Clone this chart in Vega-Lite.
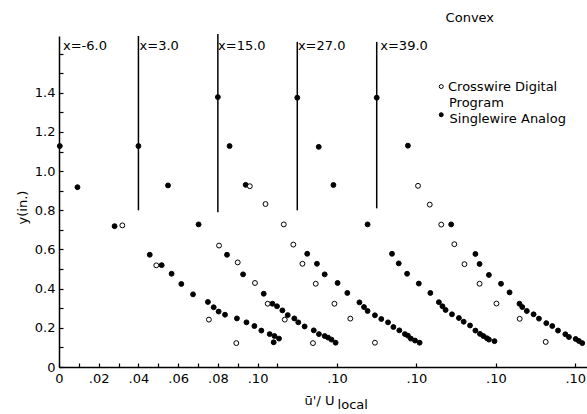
{
  "$schema": "https://vega.github.io/schema/vega-lite/v6.json",
  "width": 528,
  "height": 331,
  "autosize": "none",
  "padding": {"left": 59, "top": 36, "right": 0, "bottom": 47},
  "background": "white",
  "config": {
    "view": {"stroke": null},
    "font": "DejaVu Sans",
    "axis": {
      "grid": false,
      "domainColor": "black",
      "tickColor": "black",
      "labelColor": "black",
      "titleColor": "black",
      "labelFontSize": 13,
      "titleFontSize": 13,
      "labelFont": "DejaVu Sans",
      "titleFont": "DejaVu Sans",
      "titleFontWeight": "normal",
      "domainWidth": 1.5,
      "tickWidth": 1.2
    }
  },
  "datasets": {
    "points": [
      {"series": "Singlewire", "station": "-6.0", "u": 0.0004, "y": 1.128},
      {"series": "Singlewire", "station": "-6.0", "u": 0.0093, "y": 0.918},
      {"series": "Singlewire", "station": "-6.0", "u": 0.028, "y": 0.719},
      {"series": "Singlewire", "station": "-6.0", "u": 0.0457, "y": 0.573},
      {"series": "Singlewire", "station": "-6.0", "u": 0.0517, "y": 0.52},
      {"series": "Singlewire", "station": "-6.0", "u": 0.0567, "y": 0.476},
      {"series": "Singlewire", "station": "-6.0", "u": 0.0616, "y": 0.424},
      {"series": "Singlewire", "station": "-6.0", "u": 0.0675, "y": 0.371},
      {"series": "Singlewire", "station": "-6.0", "u": 0.075, "y": 0.332},
      {"series": "Singlewire", "station": "-6.0", "u": 0.0779, "y": 0.305},
      {"series": "Singlewire", "station": "-6.0", "u": 0.0804, "y": 0.283},
      {"series": "Singlewire", "station": "-6.0", "u": 0.0836, "y": 0.267},
      {"series": "Singlewire", "station": "-6.0", "u": 0.0896, "y": 0.248},
      {"series": "Singlewire", "station": "-6.0", "u": 0.0944, "y": 0.228},
      {"series": "Singlewire", "station": "-6.0", "u": 0.0984, "y": 0.209},
      {"series": "Singlewire", "station": "-6.0", "u": 0.1019, "y": 0.186},
      {"series": "Singlewire", "station": "-6.0", "u": 0.1061, "y": 0.168},
      {"series": "Singlewire", "station": "-6.0", "u": 0.1085, "y": 0.158},
      {"series": "Singlewire", "station": "-6.0", "u": 0.1108, "y": 0.145},
      {"series": "Singlewire", "station": "-6.0", "u": 0.1081, "y": 0.126},
      {"series": "Singlewire", "station": "3.0", "u": 0.04, "y": 1.128},
      {"series": "Singlewire", "station": "3.0", "u": 0.0549, "y": 0.927},
      {"series": "Singlewire", "station": "3.0", "u": 0.0703, "y": 0.728},
      {"series": "Singlewire", "station": "3.0", "u": 0.0846, "y": 0.573},
      {"series": "Singlewire", "station": "3.0", "u": 0.0927, "y": 0.473},
      {"series": "Singlewire", "station": "3.0", "u": 0.1031, "y": 0.374},
      {"series": "Singlewire", "station": "3.0", "u": 0.1075, "y": 0.323},
      {"series": "Singlewire", "station": "3.0", "u": 0.1098, "y": 0.31},
      {"series": "Singlewire", "station": "3.0", "u": 0.1125, "y": 0.289},
      {"series": "Singlewire", "station": "3.0", "u": 0.1152, "y": 0.265},
      {"series": "Singlewire", "station": "3.0", "u": 0.1185, "y": 0.248},
      {"series": "Singlewire", "station": "3.0", "u": 0.1205, "y": 0.228},
      {"series": "Singlewire", "station": "3.0", "u": 0.1237, "y": 0.207},
      {"series": "Singlewire", "station": "3.0", "u": 0.1283, "y": 0.187},
      {"series": "Singlewire", "station": "3.0", "u": 0.1309, "y": 0.168},
      {"series": "Singlewire", "station": "3.0", "u": 0.1338, "y": 0.158},
      {"series": "Singlewire", "station": "3.0", "u": 0.1355, "y": 0.15},
      {"series": "Singlewire", "station": "3.0", "u": 0.1372, "y": 0.14},
      {"series": "Singlewire", "station": "3.0", "u": 0.1393, "y": 0.124},
      {"series": "Singlewire", "station": "15.0", "u": 0.08, "y": 1.378},
      {"series": "Singlewire", "station": "15.0", "u": 0.0859, "y": 1.128},
      {"series": "Singlewire", "station": "15.0", "u": 0.094, "y": 0.93},
      {"series": "Singlewire", "station": "15.0", "u": 0.125, "y": 0.578},
      {"series": "Singlewire", "station": "15.0", "u": 0.1299, "y": 0.527},
      {"series": "Singlewire", "station": "15.0", "u": 0.1338, "y": 0.473},
      {"series": "Singlewire", "station": "15.0", "u": 0.1403, "y": 0.429},
      {"series": "Singlewire", "station": "15.0", "u": 0.1452, "y": 0.378},
      {"series": "Singlewire", "station": "15.0", "u": 0.1513, "y": 0.33},
      {"series": "Singlewire", "station": "15.0", "u": 0.1536, "y": 0.306},
      {"series": "Singlewire", "station": "15.0", "u": 0.1554, "y": 0.286},
      {"series": "Singlewire", "station": "15.0", "u": 0.1591, "y": 0.264},
      {"series": "Singlewire", "station": "15.0", "u": 0.1623, "y": 0.245},
      {"series": "Singlewire", "station": "15.0", "u": 0.1657, "y": 0.228},
      {"series": "Singlewire", "station": "15.0", "u": 0.1684, "y": 0.204},
      {"series": "Singlewire", "station": "15.0", "u": 0.1714, "y": 0.187},
      {"series": "Singlewire", "station": "15.0", "u": 0.1742, "y": 0.168},
      {"series": "Singlewire", "station": "15.0", "u": 0.1757, "y": 0.16},
      {"series": "Singlewire", "station": "15.0", "u": 0.1772, "y": 0.145},
      {"series": "Singlewire", "station": "15.0", "u": 0.1793, "y": 0.135},
      {"series": "Singlewire", "station": "15.0", "u": 0.1816, "y": 0.124},
      {"series": "Singlewire", "station": "27.0", "u": 0.12, "y": 1.375},
      {"series": "Singlewire", "station": "27.0", "u": 0.1308, "y": 1.124},
      {"series": "Singlewire", "station": "27.0", "u": 0.1382, "y": 0.929},
      {"series": "Singlewire", "station": "27.0", "u": 0.1554, "y": 0.728},
      {"series": "Singlewire", "station": "27.0", "u": 0.1677, "y": 0.578},
      {"series": "Singlewire", "station": "27.0", "u": 0.1711, "y": 0.529},
      {"series": "Singlewire", "station": "27.0", "u": 0.1753, "y": 0.476},
      {"series": "Singlewire", "station": "27.0", "u": 0.1812, "y": 0.426},
      {"series": "Singlewire", "station": "27.0", "u": 0.187, "y": 0.378},
      {"series": "Singlewire", "station": "27.0", "u": 0.1913, "y": 0.331},
      {"series": "Singlewire", "station": "27.0", "u": 0.1931, "y": 0.31},
      {"series": "Singlewire", "station": "27.0", "u": 0.1947, "y": 0.291},
      {"series": "Singlewire", "station": "27.0", "u": 0.1979, "y": 0.269},
      {"series": "Singlewire", "station": "27.0", "u": 0.2014, "y": 0.25},
      {"series": "Singlewire", "station": "27.0", "u": 0.2038, "y": 0.231},
      {"series": "Singlewire", "station": "27.0", "u": 0.207, "y": 0.212},
      {"series": "Singlewire", "station": "27.0", "u": 0.2097, "y": 0.186},
      {"series": "Singlewire", "station": "27.0", "u": 0.212, "y": 0.169},
      {"series": "Singlewire", "station": "27.0", "u": 0.2137, "y": 0.158},
      {"series": "Singlewire", "station": "27.0", "u": 0.2155, "y": 0.147},
      {"series": "Singlewire", "station": "27.0", "u": 0.2165, "y": 0.14},
      {"series": "Singlewire", "station": "27.0", "u": 0.2193, "y": 0.132},
      {"series": "Singlewire", "station": "39.0", "u": 0.16, "y": 1.375},
      {"series": "Singlewire", "station": "39.0", "u": 0.1757, "y": 1.13},
      {"series": "Singlewire", "station": "39.0", "u": 0.1975, "y": 0.728},
      {"series": "Singlewire", "station": "39.0", "u": 0.2097, "y": 0.577},
      {"series": "Singlewire", "station": "39.0", "u": 0.2118, "y": 0.526},
      {"series": "Singlewire", "station": "39.0", "u": 0.2165, "y": 0.47},
      {"series": "Singlewire", "station": "39.0", "u": 0.2226, "y": 0.425},
      {"series": "Singlewire", "station": "39.0", "u": 0.2269, "y": 0.381},
      {"series": "Singlewire", "station": "39.0", "u": 0.2319, "y": 0.323},
      {"series": "Singlewire", "station": "39.0", "u": 0.2333, "y": 0.306},
      {"series": "Singlewire", "station": "39.0", "u": 0.2356, "y": 0.286},
      {"series": "Singlewire", "station": "39.0", "u": 0.239, "y": 0.269},
      {"series": "Singlewire", "station": "39.0", "u": 0.2417, "y": 0.247},
      {"series": "Singlewire", "station": "39.0", "u": 0.2454, "y": 0.224},
      {"series": "Singlewire", "station": "39.0", "u": 0.2484, "y": 0.209},
      {"series": "Singlewire", "station": "39.0", "u": 0.2513, "y": 0.186},
      {"series": "Singlewire", "station": "39.0", "u": 0.255, "y": 0.167},
      {"series": "Singlewire", "station": "39.0", "u": 0.2568, "y": 0.153},
      {"series": "Singlewire", "station": "39.0", "u": 0.2602, "y": 0.143},
      {"series": "Singlewire", "station": "39.0", "u": 0.2618, "y": 0.133},
      {"series": "Singlewire", "station": "39.0", "u": 0.2635, "y": 0.122},
      {"series": "Crosswire", "station": "-6.0", "u": 0.0319, "y": 0.723},
      {"series": "Crosswire", "station": "-6.0", "u": 0.049, "y": 0.519},
      {"series": "Crosswire", "station": "-6.0", "u": 0.0755, "y": 0.242},
      {"series": "Crosswire", "station": "-6.0", "u": 0.0893, "y": 0.122},
      {"series": "Crosswire", "station": "3.0", "u": 0.0806, "y": 0.62},
      {"series": "Crosswire", "station": "3.0", "u": 0.09, "y": 0.534},
      {"series": "Crosswire", "station": "3.0", "u": 0.0987, "y": 0.429},
      {"series": "Crosswire", "station": "3.0", "u": 0.1051, "y": 0.323},
      {"series": "Crosswire", "station": "3.0", "u": 0.1137, "y": 0.242},
      {"series": "Crosswire", "station": "3.0", "u": 0.1279, "y": 0.122},
      {"series": "Crosswire", "station": "15.0", "u": 0.0961, "y": 0.923},
      {"series": "Crosswire", "station": "15.0", "u": 0.104, "y": 0.832},
      {"series": "Crosswire", "station": "15.0", "u": 0.1132, "y": 0.728},
      {"series": "Crosswire", "station": "15.0", "u": 0.118, "y": 0.625},
      {"series": "Crosswire", "station": "15.0", "u": 0.1226, "y": 0.527},
      {"series": "Crosswire", "station": "15.0", "u": 0.1293, "y": 0.425},
      {"series": "Crosswire", "station": "15.0", "u": 0.1387, "y": 0.323},
      {"series": "Crosswire", "station": "15.0", "u": 0.1467, "y": 0.247},
      {"series": "Crosswire", "station": "15.0", "u": 0.1591, "y": 0.124},
      {"series": "Crosswire", "station": "39.0", "u": 0.1808, "y": 0.925},
      {"series": "Crosswire", "station": "39.0", "u": 0.1867, "y": 0.829},
      {"series": "Crosswire", "station": "39.0", "u": 0.1925, "y": 0.727},
      {"series": "Crosswire", "station": "39.0", "u": 0.1991, "y": 0.627},
      {"series": "Crosswire", "station": "39.0", "u": 0.2042, "y": 0.525},
      {"series": "Crosswire", "station": "39.0", "u": 0.2118, "y": 0.425},
      {"series": "Crosswire", "station": "39.0", "u": 0.2203, "y": 0.324},
      {"series": "Crosswire", "station": "39.0", "u": 0.232, "y": 0.246},
      {"series": "Crosswire", "station": "39.0", "u": 0.2451, "y": 0.128}
    ],
    "lines": [
      {"u": 0.04, "y": 0.8, "top": 1.69},
      {"u": 0.08, "y": 0.79, "top": 1.7},
      {"u": 0.12, "y": 0.8, "top": 1.66},
      {"u": 0.16, "y": 0.81, "top": 1.66}
    ],
    "labels": [
      {"text": "x=-6.0", "u": 0.002, "y": 1.641},
      {"text": "x=3.0", "u": 0.0406, "y": 1.641},
      {"text": "x=15.0", "u": 0.0801, "y": 1.641},
      {"text": "x=27.0", "u": 0.1203, "y": 1.641},
      {"text": "x=39.0", "u": 0.1618, "y": 1.641},
      {"text": "Convex", "u": 0.1947, "y": 1.783},
      {"text": "Crosswire  Digital", "u": 0.1959, "y": 1.432},
      {"text": "Program", "u": 0.1964, "y": 1.347},
      {"text": "Singlewire  Analog", "u": 0.1967, "y": 1.267},
      {"text": "local", "u": 0.1403, "y": -0.193}
    ],
    "legendSymbols": [
      {"series": "Crosswire", "u": 0.1925, "y": 1.432},
      {"series": "Singlewire", "u": 0.1925, "y": 1.288}
    ]
  },
  "encoding": {
    "x": {
      "field": "u",
      "type": "quantitative",
      "scale": {"domain": [0, 0.2659], "nice": false, "zero": false},
      "axis": {
        "title": "ū'/ U",
        "values": [0, 0.01, 0.02, 0.03, 0.04, 0.05, 0.06, 0.07, 0.08, 0.09, 0.1, 0.11, 0.14, 0.18, 0.22, 0.26],
        "labelExpr": "datum.value > 0.12 ? '.10' : (datum.value == 0 ? '0' : (round(datum.value*100) % 2 == 0 ? replace(format(datum.value, '.2f'), '0.', '.') : ''))",
        "tickSize": -4,
        "labelPadding": 9,
        "labelFlush": false,
        "labelOverlap": false,
        "labelBound": false,
        "titleX": 260,
        "titleY": 37,
        "titleBaseline": "alphabetic"
      }
    },
    "y": {
      "field": "y",
      "type": "quantitative",
      "scale": {"domain": [0, 1.69], "nice": false, "zero": false},
      "axis": {
        "title": "y(in.)",
        "values": [0, 0.1, 0.2, 0.3, 0.4, 0.5, 0.6, 0.7, 0.8, 0.9, 1.0, 1.1, 1.2, 1.3, 1.4, 1.5, 1.6],
        "labelExpr": "datum.value == 0 ? '0' : ((round(datum.value*10) % 2 == 0 && datum.value < 1.5) ? format(datum.value, '.1f') : '')",
        "tickSize": -4,
        "labelPadding": 8,
        "labelFlush": false,
        "labelOverlap": false,
        "titleX": -37,
        "titleY": 171,
        "titleBaseline": "middle"
      }
    }
  },
  "layer": [
    {
      "data": {"name": "lines"},
      "mark": {"type": "rule", "color": "black", "strokeWidth": 1.5},
      "encoding": {"y2": {"field": "top"}}
    },
    {
      "data": {"name": "points"},
      "mark": {"type": "point", "shape": "circle", "filled": true, "stroke": "black", "strokeWidth": 1, "opacity": 1},
      "encoding": {
        "fill": {"field": "series", "type": "nominal", "scale": {"domain": ["Crosswire", "Singlewire"], "range": ["white", "black"]}, "legend": null},
        "size": {"value": 24}
      }
    },
    {
      "data": {"name": "legendSymbols"},
      "mark": {"type": "point", "shape": "circle", "filled": true, "stroke": "black", "strokeWidth": 1, "opacity": 1},
      "encoding": {
        "fill": {"field": "series", "type": "nominal", "scale": {"domain": ["Crosswire", "Singlewire"], "range": ["white", "black"]}, "legend": null},
        "size": {"value": 16}
      }
    },
    {
      "data": {"name": "labels"},
      "mark": {"type": "text", "align": "left", "baseline": "middle", "fontSize": 13, "font": "DejaVu Sans", "color": "black"},
      "encoding": {"text": {"field": "text"}}
    }
  ]
}
